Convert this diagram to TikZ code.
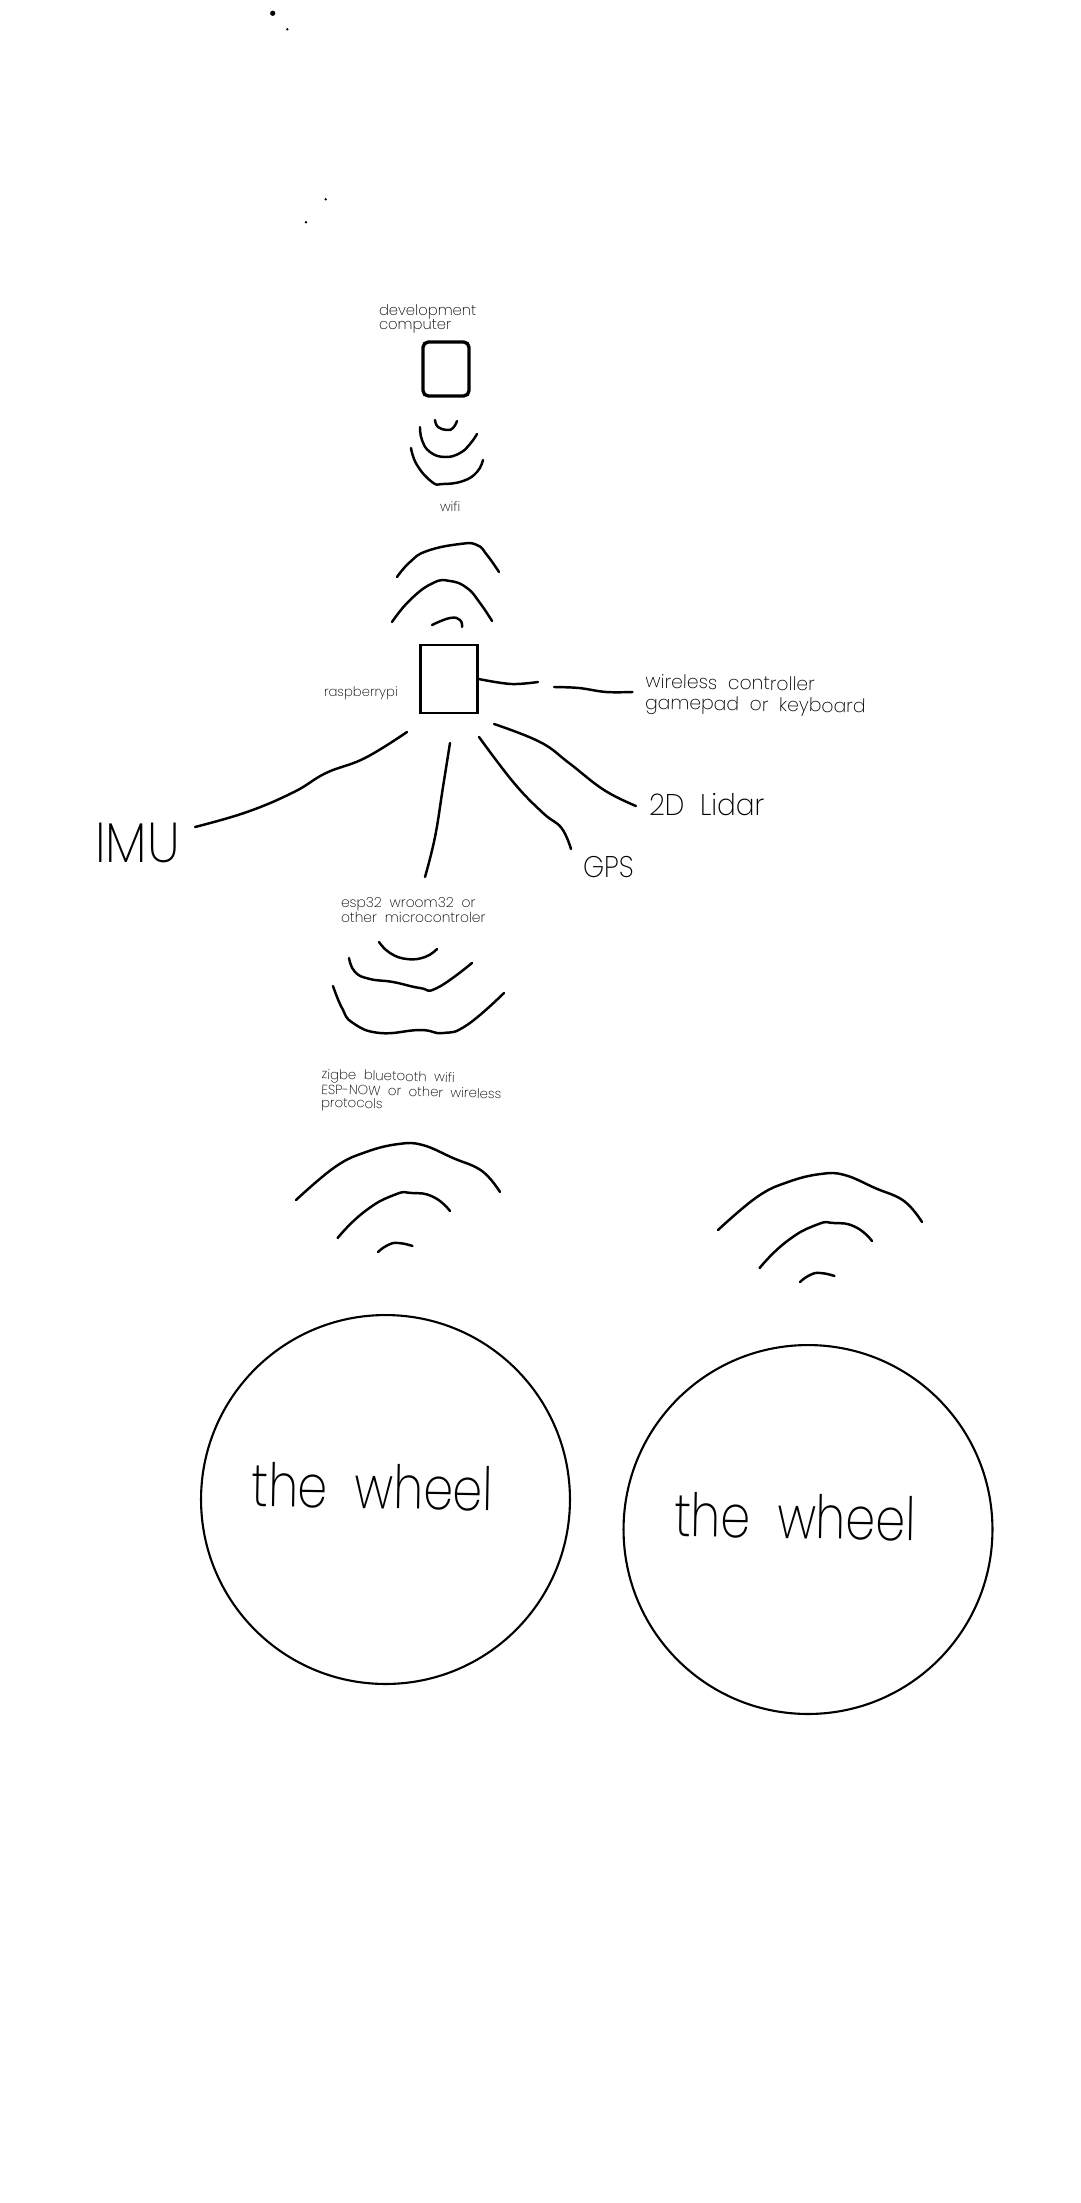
\documentclass[tikz,border=0pt]{standalone}
\usepackage{fontspec}
\setmainfont{Poppins ExtraLight}[WordSpace=2]
\tikzset{
  hand/.style={line width=1.4pt, line cap=round, line join=round},
  lab/.style={anchor=base west, inner sep=0pt, outer sep=0pt, align=left, text=black},
  spot/.style={circle, fill=black, inner sep=0pt}
}
\begin{document}
\begin{tikzpicture}[x=0.02cm,y=-0.02cm]
\useasboundingbox (0,0) rectangle (1080,2203);
\node[spot, minimum size=3pt] (dota) at (272.7,13.3) {};
\node[spot, minimum size=1.5pt] (dotb) at (287.3,29.3) {};
\node[spot, minimum size=1.5pt] (dotc) at (325.7,199.3) {};
\node[spot, minimum size=1.5pt] (dotd) at (306,222.3) {};

\node[lab, font=\fontsize{8.4}{8.5}\selectfont] (devlab) at (379,330) {development\\computer};
\node[draw, line width=1.9pt, rounded corners=3pt, minimum width=0.92cm, minimum height=1.08cm, inner sep=0pt] (devbox) at (446,369) {};
\draw[hand] plot[smooth,tension=0.8] coordinates {(435,420) (438,427) (447,430) (453,428) (457,421)};
\draw[hand] plot[smooth,tension=0.8] coordinates {(420,427) (422,440) (430,452) (445,457) (460,453) (470,444) (477,434)};
\draw[hand] plot[smooth,tension=0.8] coordinates {(411,448) (417,465) (432,482) (443,484) (463,481) (477,472) (483,460)};
\node[lab, font=\fontsize{7.5}{8}\selectfont] (wifilab) at (440,511) {wifi};
\draw[hand] plot[smooth,tension=0.8] coordinates {(397,577) (410,562) (427,551) (460,544) (477,545) (487,555) (499,572)};
\draw[hand] plot[smooth,tension=0.8] coordinates {(392,622) (410,600) (433,583) (450,581) (467,588) (480,603) (492,621)};
\draw[hand] plot[smooth,tension=0.8] coordinates {(432,625) (450,618) (460,620) (462,627)};

\node[draw, line width=1.2pt, minimum width=1.14cm, minimum height=1.36cm, inner sep=0pt] (pibox) at (449,679) {};
\node[lab, font=\fontsize{7.5}{8}\selectfont] (pilab) at (324,696) {raspberrypi};

\node[lab, font=\fontsize{10.7}{12}\selectfont, rotate=-1] (ctrllab) at (645,709) {wireless controller\\gamepad or keyboard};
\node[lab, font=\fontsize{17}{17}\selectfont, xscale=0.93] (lidarlab) at (649,815) {2D Lidar};
\node[lab, font=\fontsize{17}{17}\selectfont, xscale=0.9] (gpslab) at (583,877) {GPS};
\node[lab, font=\fontsize{32}{32}\selectfont, xscale=0.9] (imulab) at (95,862) {IMU};
\node[lab, font=\fontsize{7.9}{8}\selectfont] (esplab) at (341,922) {esp32 wroom32 or\\other microcontroler};

\coordinate (ctrlend) at (538,682);
\coordinate (ctrlfar) at (554,687);
\coordinate (ctrlto) at (632.5,692);
\coordinate (lidarfrom) at (494,724);
\coordinate (lidarto) at (636,806);
\coordinate (gpsfrom) at (479,737);
\coordinate (gpsto) at (571,849);
\coordinate (espfrom) at (450,743);
\coordinate (espto) at (425,877);
\coordinate (imufrom) at (407,732);
\coordinate (imuto) at (195,827);
\draw[hand] plot[smooth,tension=0.6] coordinates {(pibox.east) (511,684) (ctrlend)};
\draw[hand] plot[smooth,tension=0.6] coordinates {(ctrlfar) (579,688) (606,692) (ctrlto)};
\draw[hand] plot[smooth,tension=0.7] coordinates {(lidarfrom) (540,742) (569,763) (604,790) (lidarto)};
\draw[hand] plot[smooth,tension=0.7] coordinates {(gpsfrom) (514,783) (543,813) (561.5,828) (gpsto)};
\draw[hand] plot[smooth,tension=0.7] coordinates {(espfrom) (443,787) (435,837) (espto)};
\draw[hand] plot[smooth,tension=0.7] coordinates {(imufrom) (365,758) (326,773) (294,792) (247,812) (imuto)};

\draw[hand] plot[smooth,tension=0.8] coordinates {(379,942) (390,953) (407,959) (425,957) (437,949)};
\draw[hand] plot[smooth,tension=0.8] coordinates {(349,958) (355,972) (370,979) (393,982) (420,988) (437,988) (472,963)};
\draw[hand] plot[smooth,tension=0.8] coordinates {(333,986) (342,1008) (353,1023) (380,1033) (420,1030) (443,1033) (467,1025) (504,993)};
\node[lab, font=\fontsize{7.55}{7.4}\selectfont, rotate=-1.5] (ziglab) at (321,1107) {zigbe bluetooth wifi\\ESP-NOW or other wireless\\protocols};

\foreach \dx/\dy/\nm/\cx/\cy in {0/0/lwheel/385.5/1499.5, 422/30/rwheel/808/1529.5}{
  \begin{scope}[shift={(\dx,\dy)}]
  \draw[hand] plot[smooth,tension=0.7] coordinates {(296,1200) (335,1167) (366,1152) (398.6,1144) (422.6,1145) (453,1158) (482,1171) (500,1192)};
  \draw[hand] plot[smooth,tension=0.9] coordinates {(337.6,1238) (364,1212) (394,1195) (412,1193) (433.5,1197) (450,1211)};
  \draw[hand] plot[smooth,tension=0.9] coordinates {(378,1252) (388,1245) (398.6,1243) (412.5,1246)};
  \end{scope}
  \node[draw, circle, line width=1.2pt, minimum size=7.38cm, inner sep=0pt] (\nm) at (\cx,\cy) {};
  \node[lab, font=\fontsize{34}{34}\selectfont, rotate=-1, xscale=0.8] (\nm lab) at (\cx-134,\cy+7) {the wheel};
}
\end{tikzpicture}
\end{document}
